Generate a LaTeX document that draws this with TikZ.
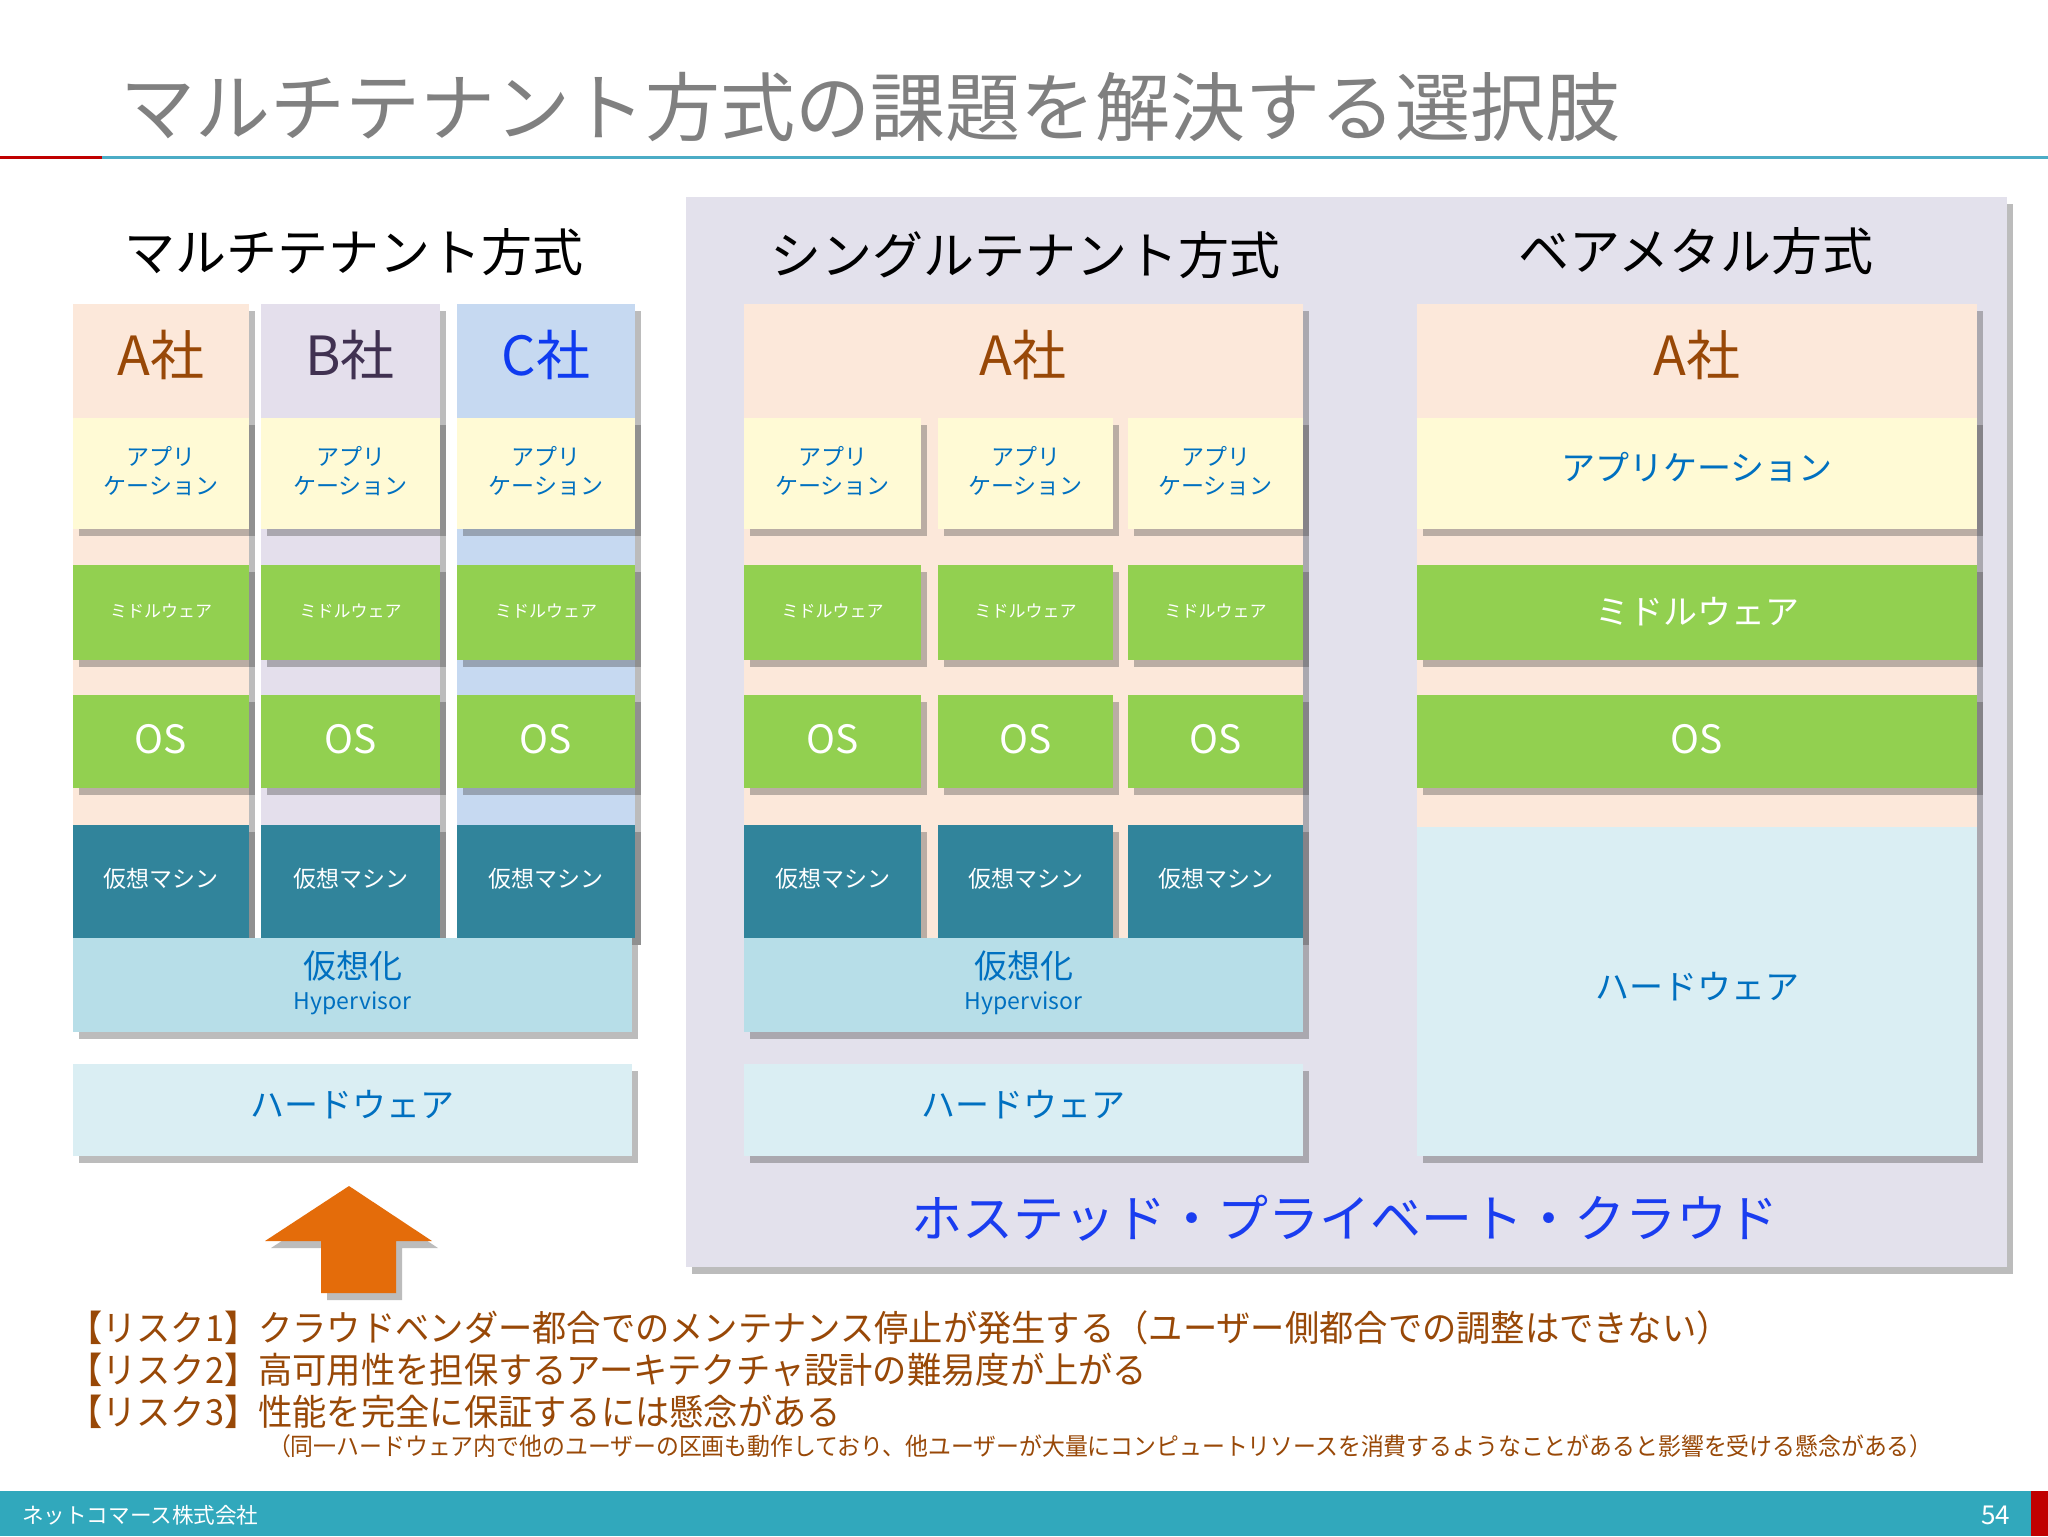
\documentclass[tikz,border=0pt]{standalone}
\usepackage{fontspec}
\setmainfont{Noto Sans CJK JP}
\usetikzlibrary{shadows,fit}
\definecolor{peachbg}{HTML}{FCE8DA}
\definecolor{lavB}{HTML}{E4DFEC}
\definecolor{blueC}{HTML}{C6D9F1}
\definecolor{appY}{HTML}{FFFAD5}
\definecolor{grn}{HTML}{92D050}
\definecolor{vmc}{HTML}{31849B}
\definecolor{hypc}{HTML}{B7DEE8}
\definecolor{hwc}{HTML}{DAEEF3}
\definecolor{bigbg}{HTML}{E3E1EC}
\definecolor{appT}{HTML}{0070C0}
\definecolor{footc}{HTML}{31A8BC}
\definecolor{arrowc}{HTML}{E46C0A}
\definecolor{riskc}{HTML}{984807}
\definecolor{cloudc}{HTML}{1A3DF0}
\definecolor{brownA}{HTML}{984807}
\definecolor{navyB}{HTML}{403151}
\definecolor{blueCt}{HTML}{0F3BF0}
\definecolor{titlec}{HTML}{808080}
\definecolor{linered}{HTML}{C00000}
\definecolor{lineteal}{HTML}{4BACC6}
\tikzset{
 shd/.style={drop shadow={shadow xshift=3pt, shadow yshift=-3.5pt, opacity=0.35, fill=black!75}},
 blk/.style={inner sep=0pt, outer sep=0pt, draw=none, shd},
 plain/.style={inner sep=0pt, outer sep=0pt, draw=none},
 appbox/.style={blk, fill=appY},
 grnbox/.style={blk, fill=grn},
 vmbox/.style={blk, fill=vmc},
 hypbox/.style={blk, fill=hypc},
 hwbox/.style={blk, fill=hwc},
 apptxt/.style={plain, text=appT, font=\fontsize{11.5}{14.5}\selectfont, align=center, yshift=1.3pt},
 appbigtxt/.style={plain, text=appT, font=\fontsize{17}{20}\selectfont, yshift=3.3pt},
 mwtxt/.style={plain, text=white, font=\fontsize{8.5}{10}\selectfont, yshift=0.6pt},
 mwbigtxt/.style={plain, text=white, font=\fontsize{17}{20}\selectfont, yshift=0.6pt},
 ostxt/.style={plain, text=white, font=\fontsize{19.5}{24}\selectfont, yshift=1.3pt},
 vmtxt/.style={plain, text=white, font=\fontsize{11.5}{14}\selectfont, yshift=1.3pt},
 hwtxt/.style={plain, text=appT, font=\fontsize{17}{20}\selectfont, yshift=2.5pt},
 hypbig/.style={plain, text=appT, font=\fontsize{16.5}{18}\selectfont},
 hypsmall/.style={plain, text=appT, font=\fontsize{11.5}{13}\selectfont},
 colabel/.style={plain, font=\fontsize{27}{30}\selectfont},
 headtxt/.style={plain, font=\fontsize{25.5}{30}\selectfont, text=black},
 risktxt/.style={plain, anchor=west, text=riskc, font=\fontsize{18}{20}\selectfont, xscale=0.952},
}
% box with centred label: style, fit points, name, label style, text
\newcommand{\bx}[5]{\node[#1, fit={#2}] (#3) {}; \node[#4] (#3t) at (#3.center) {#5};}
% hypervisor box: fit points, name
\newcommand{\hyp}[2]{\node[hypbox, fit={#1}] (#2) {};
  \node[hypbig, yshift=9.5pt] (#2a) at (#2.center) {仮想化};
  \node[hypsmall, yshift=-9pt] (#2b) at (#2.center) {Hypervisor};}
\begin{document}
\begin{tikzpicture}[x=0.5pt,y=-0.5pt]
\useasboundingbox (0,0) rectangle (2048,1536);
\fill[white] (0,0) rectangle (2048,1536);
% title
\node[plain, anchor=west, text=titlec, font=\fontsize{37.5}{40}\selectfont] (title) at (120,107) {マルチテナント方式の課題を解決する選択肢};
\fill[linered] (0,155.5) rectangle (102,158.5);
\fill[lineteal] (102,155.5) rectangle (2048,158.5);
% right background
\node[blk, fill=bigbg, fit={(686,197) (2007,1267)}] (bigbg) {};
% headings
\node[headtxt] (hMulti) at (354,252) {マルチテナント方式};
\node[headtxt] (hSingle) at (1025,255) {シングルテナント方式};
\node[headtxt] (hBare) at (1696,251) {ベアメタル方式};
% ===== multi tenant =====
\node[blk, fill=peachbg, fit={(73,304) (249,938)}] (bgA) {};
\node[blk, fill=lavB, fit={(261,304) (440,938)}] (bgB) {};
\node[blk, fill=blueC, fit={(457,304) (635,938)}] (bgC) {};
\node[colabel, text=brownA] (lA) at (161,355) {A社};
\node[colabel, text=navyB] (lB) at (350,355) {B社};
\node[colabel, text=blueCt] (lC) at (546,355) {C社};
\bx{appbox}{(73,418) (249,529)}{appA}{apptxt}{アプリ\\ケーション}
\bx{appbox}{(261,418) (440,529)}{appB}{apptxt}{アプリ\\ケーション}
\bx{appbox}{(457,418) (635,529)}{appC}{apptxt}{アプリ\\ケーション}
\bx{grnbox}{(73,565) (249,660)}{mwA}{mwtxt}{ミドルウェア}
\bx{grnbox}{(261,565) (440,660)}{mwB}{mwtxt}{ミドルウェア}
\bx{grnbox}{(457,565) (635,660)}{mwC}{mwtxt}{ミドルウェア}
\bx{grnbox}{(73,695) (249,788)}{osA}{ostxt}{OS}
\bx{grnbox}{(261,695) (440,788)}{osB}{ostxt}{OS}
\bx{grnbox}{(457,695) (635,788)}{osC}{ostxt}{OS}
\bx{vmbox}{(73,825) (249,938)}{vmA}{vmtxt}{仮想マシン}
\bx{vmbox}{(261,825) (440,938)}{vmB}{vmtxt}{仮想マシン}
\bx{vmbox}{(457,825) (635,938)}{vmC}{vmtxt}{仮想マシン}
\hyp{(73,938) (632,1032)}{hypL}
\bx{hwbox}{(73,1064) (632,1156)}{hwL}{hwtxt}{ハードウェア}
% arrow
\fill[arrowc, shd]
  (349,1186) -- (432,1241) -- (396,1241) -- (396,1293) -- (321,1293) -- (321,1241) -- (265,1241) -- cycle;
% ===== single tenant =====
\node[blk, fill=peachbg, fit={(744,304) (1303,938)}] (bgS) {};
\node[colabel, text=brownA] (lS) at (1023,355) {A社};
\bx{appbox}{(744,418) (921,529)}{appS1}{apptxt}{アプリ\\ケーション}
\bx{appbox}{(938,418) (1113,529)}{appS2}{apptxt}{アプリ\\ケーション}
\bx{appbox}{(1128,418) (1303,529)}{appS3}{apptxt}{アプリ\\ケーション}
\bx{grnbox}{(744,565) (921,660)}{mwS1}{mwtxt}{ミドルウェア}
\bx{grnbox}{(938,565) (1113,660)}{mwS2}{mwtxt}{ミドルウェア}
\bx{grnbox}{(1128,565) (1303,660)}{mwS3}{mwtxt}{ミドルウェア}
\bx{grnbox}{(744,695) (921,788)}{osS1}{ostxt}{OS}
\bx{grnbox}{(938,695) (1113,788)}{osS2}{ostxt}{OS}
\bx{grnbox}{(1128,695) (1303,788)}{osS3}{ostxt}{OS}
\bx{vmbox}{(744,825) (921,938)}{vmS1}{vmtxt}{仮想マシン}
\bx{vmbox}{(938,825) (1113,938)}{vmS2}{vmtxt}{仮想マシン}
\bx{vmbox}{(1128,825) (1303,938)}{vmS3}{vmtxt}{仮想マシン}
\hyp{(744,938) (1303,1032)}{hypS}
\bx{hwbox}{(744,1064) (1303,1156)}{hwS}{hwtxt}{ハードウェア}
% ===== bare metal =====
\node[blk, fill=peachbg, fit={(1417,304) (1977,827)}] (bgM) {};
\node[colabel, text=brownA] (lM) at (1697,355) {A社};
\bx{appbox}{(1417,418) (1977,529)}{appM}{appbigtxt}{アプリケーション}
\bx{grnbox}{(1417,565) (1977,660)}{mwM}{mwbigtxt}{ミドルウェア}
\bx{grnbox}{(1417,695) (1977,788)}{osM}{ostxt}{OS}
\bx{hwbox}{(1417,827) (1977,1156)}{hwM}{hwtxt}{ハードウェア}
% cloud label
\node[plain, text=cloudc, font=\fontsize{25.5}{30}\selectfont] (cloud) at (1345,1218) {ホステッド・プライベート・クラウド};
% risks
\node[risktxt] (r1) at (68,1328) {【リスク1】クラウドベンダー都合でのメンテナンス停止が発生する（ユーザー側都合での調整はできない）};
\node[risktxt] (r2) at (68,1370) {【リスク2】高可用性を担保するアーキテクチャ設計の難易度が上がる};
\node[risktxt] (r3) at (68,1412) {【リスク3】性能を完全に保証するには懸念がある};
\node[plain, anchor=west, text=riskc, font=\fontsize{12.2}{14}\selectfont, xscale=0.937] (r4) at (268,1446) {（同一ハードウェア内で他のユーザーの区画も動作しており、他ユーザーが大量にコンピュートリソースを消費するようなことがあると影響を受ける懸念がある）};
% footer
\fill[footc] (0,1491) rectangle (2048,1536);
\fill[linered] (2031,1491) rectangle (2048,1536);
\node[plain, anchor=west, text=white, font=\fontsize{10.8}{12}\selectfont] (company) at (22,1515) {ネットコマース株式会社};
\node[plain, anchor=east, text=white, font=\fontsize{13}{15}\selectfont] (page) at (2010,1515) {54};
\end{tikzpicture}
\end{document}
